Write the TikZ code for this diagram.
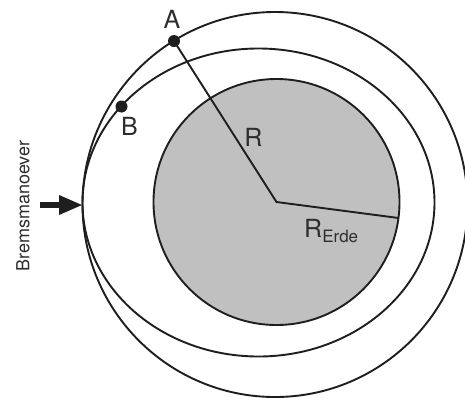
\documentclass[tikz,border=0pt]{standalone}
\usepackage{fontspec}
\setmainfont{TeX Gyre Heros}
\usetikzlibrary{arrows.meta}
\definecolor{earth}{RGB}{192,192,192}
\definecolor{ink}{RGB}{30,30,30}
\definecolor{txt}{RGB}{45,45,45}
\tikzset{
  orbit/.style={draw=ink, line width=1.9pt},
  radius line/.style={draw=ink, line width=1.9pt},
  lbl/.style={text=txt, inner sep=0pt, font=\fontsize{25}{25}\selectfont},
  dotmark/.style={circle, fill=ink, inner sep=0pt, minimum size=12pt},
}
\begin{document}
\begin{tikzpicture}[x=1pt,y=-1pt]
\useasboundingbox (0,0) rectangle (465,397);
% earth
\fill[earth] (276.5,202) circle (123pt);
\draw[orbit] (276.5,202) circle (123pt);
% outer circular orbit
\draw[orbit] (275,204.5) circle (192.5pt);
% elliptical orbit
\draw[orbit] (258.5,202.5) ellipse [x radius=176pt, y radius=154pt];
% points
\coordinate (ctr) at (276.5,202);
\coordinate (rE) at (398.5,218);
\node[dotmark] (A) at (174,41) {};
\node[dotmark] (B) at (121.5,106.5) {};
\draw[radius line] (A.center) -- (ctr) -- (rE);
% labels
\node[lbl] (lA) at (172,19) {A};
\node[lbl] (lB) at (129.5,126.5) {B};
\node[lbl] (lR) at (253.5,137.5) {R};
\node[lbl, anchor=base west] (lRE) at (304,237) {R\raisebox{-5pt}{\fontsize{17}{17}\selectfont Erde}};
% braking manoeuvre
\coordinate (arrS) at (40,205);
\coordinate (arrE) at (83,205);
\draw[ink, line width=6pt, -{Triangle[length=24pt,width=18pt]}] (arrS) -- (arrE);
\node[text=txt, rotate=90, inner sep=0pt, font=\fontsize{18}{18}\selectfont] (brems) at (23,206) {Bremsmanoever};
\end{tikzpicture}
\end{document}
